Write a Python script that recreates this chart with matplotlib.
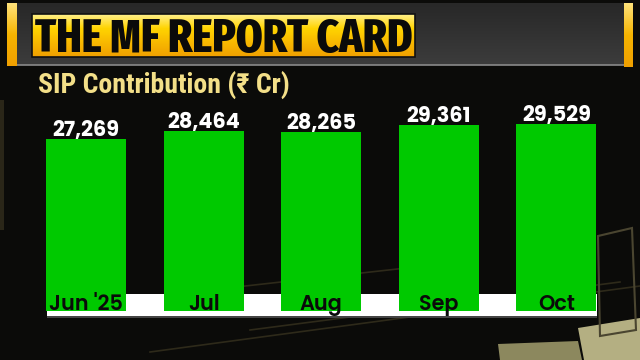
import numpy as np
import matplotlib
matplotlib.use("Agg")
import matplotlib.pyplot as plt
from matplotlib import font_manager as fm
from matplotlib.patches import Rectangle, Polygon
from matplotlib.colors import LinearSegmentedColormap

# ---- data ----
title = "THE MF REPORT CARD"
subtitle = "SIP Contribution (₹ Cr)"
months = ["Jun '25", "Jul", "Aug", "Sep", "Oct"]
sip_values = [27269, 28464, 28265, 29361, 29529]


def pick(cands, minw):
    for name in cands:
        for f in fm.fontManager.ttflist:
            if f.name == name and isinstance(f.weight, int) and f.weight >= minw:
                return name
    return "DejaVu Sans"


title_font = pick(["Fira Sans Extra Condensed", "Barlow Condensed", "Roboto Condensed"], 800)
sub_font = pick(["Roboto Condensed", "Fira Sans Condensed"], 700)
num_font = pick(["Montserrat", "Poppins", "DejaVu Sans"], 700)
cat_font = pick(["Montserrat", "Poppins", "DejaVu Sans"], 600)

W, H = 640, 360
fig = plt.figure(figsize=(W / 100, H / 100), dpi=100)
fig.patch.set_facecolor("#0b0b09")
renderer = fig.canvas.get_renderer()


def fit_width(t, target_px):
    w = t.get_window_extent(renderer=renderer).width
    t.set_fontsize(t.get_fontsize() * target_px / w)
    return t.get_fontsize()


# ---- background / decoration axes in pixel coords ----
bg = fig.add_axes([0, 0, 1, 1], zorder=0)
bg.set_xlim(0, W)
bg.set_ylim(H, 0)
bg.axis("off")
bg.set_facecolor("#0b0b09")

for (x0, y0, x1, y1) in [(150, 352, 640, 286), (250, 330, 620, 282), (120, 300, 460, 262)]:
    bg.plot([x0, x1], [y0, y1], color="#2e2a1a", lw=1.2, zorder=1)
bg.add_patch(Polygon([(498, 344), (578, 341), (582, 360), (500, 360)], closed=True,
                     fc="#8c885e", ec="none", zorder=1))
bg.add_patch(Polygon([(578, 328), (640, 318), (640, 360), (584, 360)], closed=True,
                     fc="#b4af82", ec="none", zorder=1))
bg.add_patch(Polygon([(598, 236), (632, 228), (636, 330), (600, 336)], closed=True,
                     fc="none", ec="#4a4530", lw=1.5, zorder=1))
bg.add_patch(Rectangle((0, 100), 4, 130, fc="#2a2618", ec="none", zorder=1))

# header grey panel with gradient
grad = np.linspace(0, 1, 64).reshape(-1, 1)
gray_cmap = LinearSegmentedColormap.from_list("g", ["#282828", "#3c3c3c"])
bg.imshow(grad, cmap=gray_cmap, extent=(17, 624, 65, 3), aspect="auto", zorder=2)
bg.plot([17, 624], [65, 65], color="#8a8a8a", lw=1.2, zorder=3)

strip_cmap = LinearSegmentedColormap.from_list("s", ["#ffe27a", "#f6b400", "#f0a000"])
bg.imshow(grad, cmap=strip_cmap, extent=(7, 17, 66, 3), aspect="auto", zorder=3)
bg.imshow(grad, cmap=strip_cmap, extent=(624, 633, 67, 3), aspect="auto", zorder=3)

box_cmap = LinearSegmentedColormap.from_list("b", ["#fff08a", "#ffd400", "#f8b800", "#f0a000"])
bg.imshow(grad, cmap=box_cmap, extent=(32, 415, 57, 14), aspect="auto", zorder=4)
bg.add_patch(Rectangle((32, 14), 383, 43, fc="none", ec="#111111", lw=1.2, zorder=5))
t_title = bg.text(35, 52, title, fontsize=30, fontweight="heavy",
                  family=[title_font, "DejaVu Sans"], color="#0a0a0a",
                  va="baseline", ha="left", zorder=6)
fit_width(t_title, 376)

t_sub = bg.text(38, 93, subtitle, fontsize=20, fontweight="bold",
                family=[sub_font, "Noto Sans", "DejaVu Sans"], color="#f3df88",
                va="baseline", ha="left", zorder=6)
fit_width(t_sub, 252)

# white band under the bars
bg.add_patch(Rectangle((46.5, 293.5), 550, 22.5, fc="white", ec="none", zorder=6))
bg.add_patch(Rectangle((46.5, 316), 550, 1.8, fc="#444444", ec="none", zorder=6))

# ---- bar axes ----
bottom_px, top_px = 311, 100
ax = fig.add_axes([0, 1 - bottom_px / H, 1, (bottom_px - top_px) / H], zorder=2)
ax.patch.set_alpha(0)
ax.axis("off")
spacing = 117.6
c0 = 86
ax.set_xlim(-c0 / spacing, (W - c0) / spacing)
k = 0.006637  # px per unit
zero_px = 320
ax.set_ylim((zero_px - bottom_px) / k, (zero_px - top_px) / k)

x = np.arange(len(months))
bars = ax.bar(x, sip_values, width=80 / spacing, color="#00c900", edgecolor="none")

# size fitting for labels
probe = fig.text(0, 0, f"{sip_values[0]:,}", fontsize=14, fontweight="bold", family=num_font)
num_size = min(fit_width(probe, 80), 15)
probe.remove()
probe = fig.text(0, 0, months[-1], fontsize=14, fontweight="semibold", family=cat_font)
cat_size = min(fit_width(probe, 48), 15)
probe.remove()

for xi, v in zip(x, sip_values):
    ax.annotate(f"{v:,}", (xi, v), xytext=(0, 3), textcoords="offset pixels",
                ha="center", va="baseline", fontsize=num_size, fontweight="bold",
                color="white", family=num_font)

for xi, m in zip(x, months):
    ax.text(xi, 0.004, m, transform=ax.get_xaxis_transform(), ha="center",
            va="baseline", fontsize=cat_size, fontweight="semibold", color="#0a0a0a",
            family=cat_font)

fig.savefig("out.png", dpi=100, facecolor=fig.get_facecolor())
